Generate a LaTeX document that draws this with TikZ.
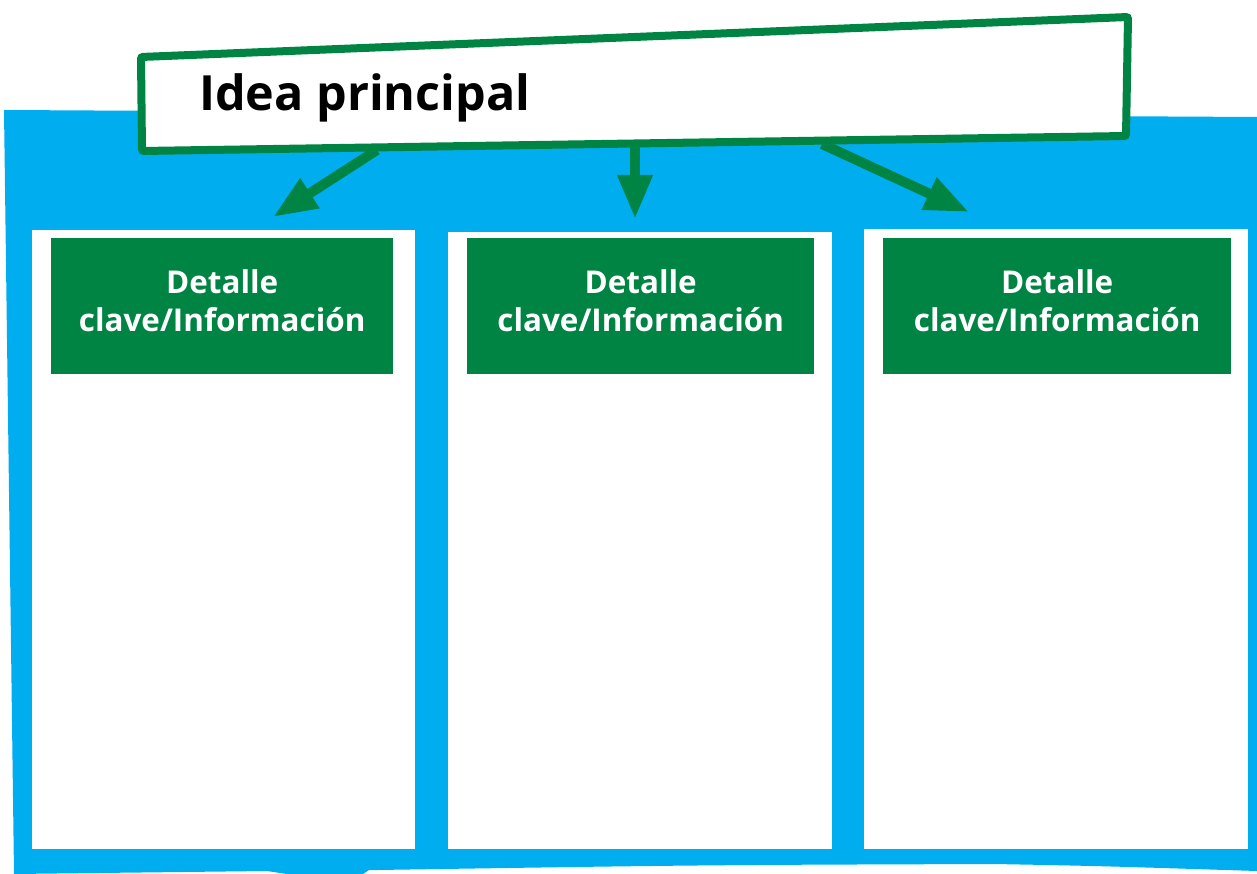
\documentclass[tikz,border=0pt]{standalone}
\usepackage{fontspec}
\setmainfont{Open Sans}
\usetikzlibrary{arrows.meta,shadows}
\definecolor{skyblue}{RGB}{0,174,239}
\definecolor{leafgreen}{RGB}{0,132,68}

\begin{document}
\begin{tikzpicture}[
		x=1pt, y=-1pt,
		column/.style={fill=white, minimum width=383pt, minimum height=619pt, anchor=north west, inner sep=0pt},
		header/.style={fill=leafgreen, text=white, font=\bfseries\fontsize{31.4}{38}\selectfont, align=center, minimum width=342pt, minimum height=136pt, anchor=north west, inner sep=0pt, text depth=12pt},
		pointer/.style={leafgreen, line width=10pt, -{Triangle[length=44pt,width=33pt]}}
	]
	\useasboundingbox (0,0) rectangle (1257,874);
	% blue sheet behind the columns
	\fill[skyblue] (4,110) -- (1257,117) -- (1257,871)
		.. controls (1100,866) .. (994,864)
		.. controls (700,865) .. (377,870) -- (369,870) -- (360,876) -- (300,876)
		-- (267,871) -- (14,874) -- cycle;
	% columns
	\node[column] (col1) at (32,230) {};
	\node[column, minimum width=384pt, minimum height=617pt] (col2) at (448,232) {};
	\node[column, minimum width=384pt, minimum height=620pt] (col3) at (864,229) {};
	\node[header] (head1) at (51,238) {Detalle\\clave/Información};
	\node[header, minimum width=347pt] (head2) at (467,238) {Detalle\\clave/Información};
	\node[header, minimum width=348pt] (head3) at (883,238) {Detalle\\clave/Información};
	% arrows
	\coordinate (src1) at (377,150);
	\coordinate (tip1) at (273,217);
	\coordinate (src2) at (635,145);
	\coordinate (tip2) at (635,219);
	\coordinate (src3) at (822,144);
	\coordinate (tip3) at (969,212);
	\draw[pointer] (src1) -- (tip1);
	\draw[pointer] (src2) -- (tip2);
	\draw[pointer] (src3) -- (tip3);
	% title
	\draw[leafgreen, line width=8pt, fill=white, rounded corners=2pt,
		drop shadow={shadow xshift=3pt, shadow yshift=-4pt, opacity=0.25}]
		(141,57) -- (1128,17) -- (1126,136) -- (142,151) -- cycle;
	\node[font=\bfseries\fontsize{48.5}{52}\selectfont, anchor=base west, inner sep=0pt] (idea) at (199,111) {Idea principal};
\end{tikzpicture}
\end{document}
